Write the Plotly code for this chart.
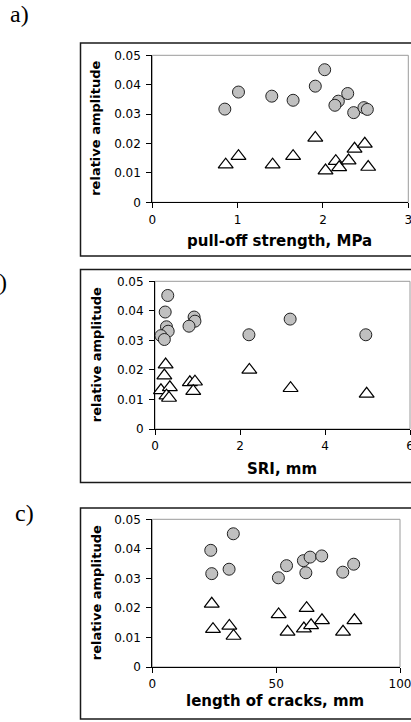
import plotly.graph_objects as go

# ---------------- data ----------------
# a) pull-off strength, MPa
a_circ_x = [0.85, 1.01, 1.40, 1.65, 1.91, 2.02, 2.18, 2.14, 2.29, 2.36, 2.48, 2.52]
a_circ_y = [0.0317, 0.0375, 0.0361, 0.0347, 0.0395, 0.0451, 0.0344, 0.0330, 0.0370, 0.0305, 0.0322, 0.0316]
a_tri_x = [0.86, 1.01, 1.41, 1.65, 1.91, 2.03, 2.15, 2.19, 2.30, 2.37, 2.49, 2.53]
a_tri_y = [0.0128, 0.0157, 0.0128, 0.0157, 0.0219, 0.0108, 0.0140, 0.0119, 0.0142, 0.0182, 0.0199, 0.0120]

# b) SRI, mm
b_circ_x = [0.30, 0.24, 0.27, 0.31, 0.14, 0.22, 0.92, 0.94, 0.80, 2.21, 3.18, 4.96]
b_circ_y = [0.0452, 0.0396, 0.0346, 0.0331, 0.0316, 0.0303, 0.0379, 0.0365, 0.0348, 0.0319, 0.0372, 0.0319]
b_tri_x = [0.25, 0.22, 0.14, 0.35, 0.27, 0.33, 0.82, 0.94, 0.90, 2.22, 3.19, 4.98]
b_tri_y = [0.0218, 0.0181, 0.0131, 0.0141, 0.0113, 0.0105, 0.0158, 0.0160, 0.0128, 0.0200, 0.0138, 0.0119]

# c) length of cracks, mm
c_circ_x = [32.7, 23.6, 31.0, 24.0, 50.9, 54.2, 61.0, 63.7, 62.0, 68.4, 76.9, 81.3]
c_circ_y = [0.0451, 0.0395, 0.0331, 0.0316, 0.0302, 0.0343, 0.0360, 0.0372, 0.0319, 0.0376, 0.0321, 0.0348]
c_tri_x = [24.0, 24.5, 31.1, 32.8, 51.0, 54.6, 62.3, 61.2, 64.1, 68.5, 77.0, 81.6]
c_tri_y = [0.0214, 0.0128, 0.0139, 0.0105, 0.0178, 0.0119, 0.0199, 0.0130, 0.0141, 0.0158, 0.0119, 0.0158]

panel_labels = ["a)", "b)", "c)"]
x_titles = ["pull-off strength, MPa", "SRI, mm", "length of cracks, mm"]
y_title = "relative amplitude"
x_ranges = [[0, 3], [0, 6], [0, 100]]
x_dticks = [1, 2, 50]

# ---------------- layout helpers (pixels) ----------------
W, H = 411, 722
def fx(p):
    return p / W
def fy(p):
    return 1 - p / H

plot_px = [  # left, right, top, bottom of plot area
    (152.3, 408.3, 55.3, 202.3),
    (155.0, 410.0, 281.3, 429.0),
    (152.3, 400.0, 519.3, 667.0),
]
frame_px = [(80.5, 43.0, 256.0), (80.5, 269.5, 482.5), (80.5, 508.0, 719.0)]
xtitle_px = [(279.5, 241.5), (282.0, 468.5), (274.5, 700.5)]
label_px = [(19, 14, "center"), (9, 282, "right"), (24, 513, "center")]

series = [
    (a_circ_x, a_circ_y, a_tri_x, a_tri_y),
    (b_circ_x, b_circ_y, b_tri_x, b_tri_y),
    (c_circ_x, c_circ_y, c_tri_x, c_tri_y),
]

fig = go.Figure()
shapes = []
annotations = []
tick_font = dict(family="DejaVu Sans", size=12, color="black")
title_font = dict(family="DejaVu Sans", size=15, color="black", weight="bold")

for i in range(3):
    ax = "" if i == 0 else str(i + 1)
    xa, ya = "x" + ax, "y" + ax
    cx, cy, tx, ty = series[i]
    fig.add_trace(go.Scatter(
        x=tx, y=ty, mode="markers", xaxis=xa, yaxis=ya, showlegend=False,
        marker=dict(symbol="triangle-up", size=13, color="white",
                    line=dict(color="black", width=1.2)),
        cliponaxis=False))
    fig.add_trace(go.Scatter(
        x=cx, y=cy, mode="markers", xaxis=xa, yaxis=ya, showlegend=False,
        marker=dict(symbol="circle", size=12, color="#c0c0c0",
                    line=dict(color="#222", width=1)),
        cliponaxis=False))

    l, r, t, b = plot_px[i]
    fig.update_layout(**{
        "xaxis" + ax: dict(
            domain=[fx(l), fx(r)], range=x_ranges[i], dtick=x_dticks[i], tick0=0,
            anchor=ya, showgrid=False, zeroline=False, showline=True,
            linecolor="black", linewidth=1, ticks="outside", ticklen=5,
            tickcolor="black", tickwidth=1, tickfont=tick_font,
            ticklabelstandoff=1, ticklabeloverflow="allow", automargin=False),
        "yaxis" + ax: dict(
            domain=[fy(b), fy(t)], range=[0, 0.05], dtick=0.01, tick0=0,
            anchor=xa, showgrid=False, zeroline=False, showline=True,
            linecolor="black", linewidth=1, ticks="outside", ticklen=5,
            tickcolor="black", tickwidth=1, tickfont=tick_font,
            ticklabelstandoff=3, automargin=False),
    })
    # gray plot-area border (top/right)
    shapes.append(dict(type="rect", xref=xa + " domain", yref=ya + " domain",
                       x0=0, x1=1, y0=0, y1=1, layer="below",
                       line=dict(color="#9a9a9a", width=1)))
    # outer frame
    fl, ft, fb = frame_px[i]
    shapes.append(dict(type="rect", xref="paper", yref="paper",
                       x0=fx(fl), x1=fx(W + 3), y0=fy(fb), y1=fy(ft),
                       line=dict(color="#1a1a1a", width=1.5)))
    # axis titles
    tx_, ty_ = xtitle_px[i]
    annotations.append(dict(text=x_titles[i], xref="paper", yref="paper",
                            x=fx(tx_), y=fy(ty_), xanchor="center", yanchor="middle",
                            showarrow=False, font=title_font))
    annotations.append(dict(text=y_title, xref="paper", yref="paper",
                            x=fx(96), y=fy((t + b) / 2), xanchor="center", yanchor="middle",
                            textangle=-90, showarrow=False,
                            font=dict(family="DejaVu Sans", size=13, color="black", weight="bold")))
    lx, ly, anc = label_px[i]
    annotations.append(dict(text=panel_labels[i], xref="paper", yref="paper",
                            x=fx(lx), y=fy(ly), xanchor=anc, yanchor="middle",
                            showarrow=False,
                            font=dict(family="Liberation Serif", size=24, color="black")))

fig.update_layout(
    width=W, height=H, margin=dict(l=0, r=0, t=0, b=0, autoexpand=False),
    paper_bgcolor="white", plot_bgcolor="white",
    shapes=shapes, annotations=annotations, showlegend=False,
)

fig.write_html("out.html", config={"displayModeBar": False})
